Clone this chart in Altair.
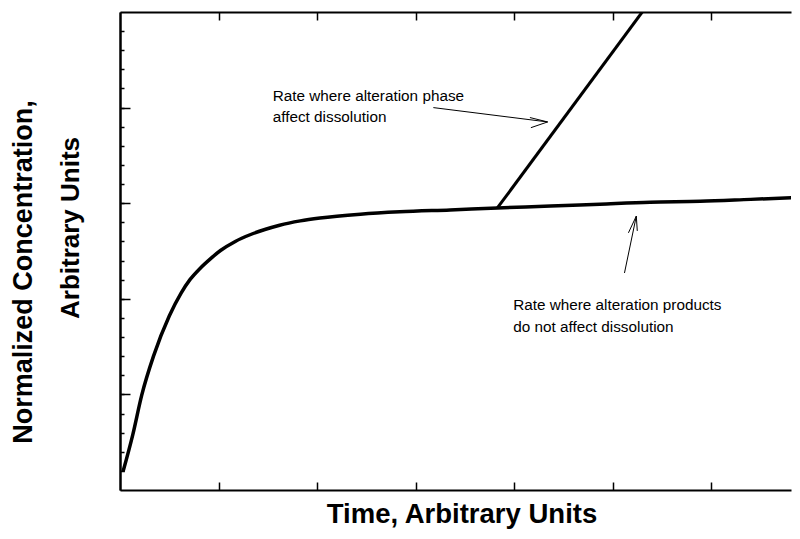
import altair as alt
import pandas as pd

# ---- data ----
curve_x = [0.03, 0.13, 0.22, 0.34, 0.50, 0.62, 0.71, 0.81, 0.92, 1.02, 1.17, 1.32, 1.47, 1.62, 1.83,
           2.03, 2.44, 2.84, 3.35, 3.83, 4.37, 4.87, 5.38, 5.89, 6.40, 6.90]
curve_y = [0.19, 0.58, 0.99, 1.40, 1.82, 2.06, 2.20, 2.315, 2.42, 2.505, 2.60, 2.67, 2.725, 2.77, 2.815,
           2.845, 2.885, 2.91, 2.93, 2.95, 2.97, 2.99, 3.01, 3.02, 3.04, 3.06]
steep_x = [3.83, 5.30]
steep_y = [2.95, 5.00]

x_major = [1, 2, 3, 4, 5, 6]
y_major = [1, 2, 3, 4]
y_minor = [round(0.2 * i, 1) for i in range(1, 25)]

# annotation arrows (segments), data units
arrow_id = ["a1", "a1", "h1a", "h1a", "h1b", "h1b", "a2", "a2", "h2a", "h2a", "h2b", "h2b"]
arrow_x = [3.18, 4.34, 4.16, 4.34, 4.17, 4.34, 5.12, 5.24, 5.16, 5.24, 5.25, 5.24]
arrow_y = [4.00, 3.85, 3.896, 3.85, 3.79, 3.85, 2.27, 2.865, 2.69, 2.865, 2.71, 2.865]

note_text = ["Rate where alteration phase", "affect dissolution",
             "Rate where alteration products", "do not affect dissolution"]
note_x = [1.55, 1.55, 3.99, 3.99]
note_y = [4.07, 3.85, 1.885, 1.656]

W, H = 671, 478
FONT = "Liberation Sans, Arial, Helvetica"

xs = alt.Scale(domain=[0, 6.81], nice=False, zero=False)
ys = alt.Scale(domain=[0, 5], nice=False, zero=False)

def ax(orient, offset, values, size):
    return alt.Axis(orient=orient, offset=offset, values=values, tickSize=size, labels=False,
                    title=None, grid=False, domainColor="black", domainWidth=2,
                    tickColor="black", tickWidth=1.5)

curve_df = pd.DataFrame({"x": curve_x, "y": curve_y})
steep_df = pd.DataFrame({"x": steep_x, "y": steep_y})
arrow_df = pd.DataFrame({"id": arrow_id, "x": arrow_x, "y": arrow_y})
note_df = pd.DataFrame({"t": note_text, "x": note_x, "y": note_y})

curve = alt.Chart(curve_df).mark_line(color="black", strokeWidth=3.5, interpolate="monotone",
                                      clip=True).encode(
    x=alt.X("x:Q", scale=xs, axis=ax("top", -H, x_major, 8)),
    y=alt.Y("y:Q", scale=ys, axis=ax("right", -W, y_major, 10)),
)
steep = alt.Chart(steep_df).mark_line(color="black", strokeWidth=3, clip=True).encode(
    x=alt.X("x:Q", scale=xs, axis=ax("bottom", -H, x_major, 8)),
    y=alt.Y("y:Q", scale=ys, axis=ax("right", -W, y_minor, 4)),
)
arrows = alt.Chart(arrow_df).mark_line(color="black", strokeWidth=1).encode(
    x=alt.X("x:Q", scale=xs, axis=None),
    y=alt.Y("y:Q", scale=ys, axis=None),
    detail="id:N",
)
notes = alt.Chart(note_df).mark_text(align="left", baseline="alphabetic", font=FONT,
                                     fontSize=15.3, color="black").encode(
    x=alt.X("x:Q", scale=xs, axis=None),
    y=alt.Y("y:Q", scale=ys, axis=None),
    text="t:N",
)

title_df = pd.DataFrame({"t": ["Time, Arbitrary Units"]})
xtitle = alt.Chart(title_df).mark_text(font=FONT, fontSize=27.5, fontWeight="bold", color="black",
                                       align="center", baseline="alphabetic").encode(
    x=alt.value(342), y=alt.value(511), text="t:N")

yt1_df = pd.DataFrame({"t": ["Normalized Concentration,"]})
yt2_df = pd.DataFrame({"t": ["Arbitrary Units"]})
ytitle1 = alt.Chart(yt1_df).mark_text(font=FONT, fontSize=27, fontWeight="bold", color="black",
                                      angle=270, align="center", baseline="middle").encode(
    x=alt.value(-96), y=alt.value(260), text="t:N")
ytitle2 = alt.Chart(yt2_df).mark_text(font=FONT, fontSize=26, fontWeight="bold", color="black",
                                      angle=270, align="center", baseline="middle").encode(
    x=alt.value(-49), y=alt.value(216), text="t:N")

chart = alt.layer(curve, steep, arrows, notes, xtitle, ytitle1, ytitle2).resolve_axis(
    x="independent", y="independent"
).properties(
    width=W, height=H,
    autosize=alt.AutoSizeParams(type="none"),
    padding={"left": 112, "top": 4, "right": 1, "bottom": 41},
    background="white",
).configure_view(stroke=None)

chart.save("out.html", embed_options={"renderer": "svg", "actions": False})
